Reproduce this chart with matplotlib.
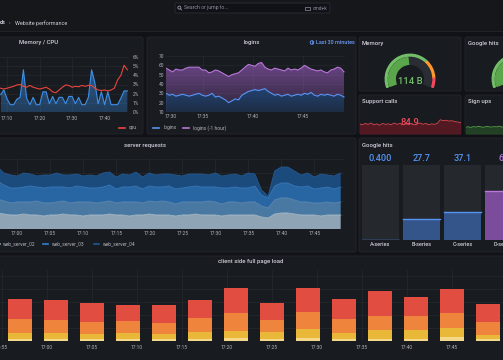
import numpy as np
import matplotlib
matplotlib.use('Agg')
import matplotlib.pyplot as plt
import matplotlib.colors as mcolors
from matplotlib.patches import FancyBboxPatch, Wedge, Polygon, Circle, Rectangle

plt.rcParams['font.family'] = ['Roboto', 'DejaVu Sans']

W, H = 503, 360

CANVAS = '#111217'
PANEL = '#181b1f'
BORDER = '#24262c'
TEXT = '#d0d0dc'
TICK = '#b4b4c0'
GRID = '#26282d'

# ---- data ----
# memory / cpu, one value per minute from 17:08
cpu_start = 8
memory_pct = [1.9, 2.4, 1.4, 0.8, 0.8, 1.4, 1.6, 4.6, 1.5, 0.8,
              1.6, 0.8, 0.8, 2.2, 2.2, 0.9, 1.7, 0.9, 1.6, 1.6,
              0.9, 1.7, 1.7, 0.9, 1.6, 0.8, 0.8, 1.6, 4.6, 3.2,
              0.9, 2.2, 0.8, 2.2, 0.8, 0.8, 0.8, 1.5, 2.3, 2.3]
cpu_pct = [2.6, 2.5, 2.6, 2.7, 2.8, 2.95, 3.0, 2.8, 2.7, 2.9,
           2.7, 2.6, 2.5, 2.6, 2.7, 2.5, 2.2, 2.1, 2.4, 2.7,
           2.95, 2.9, 2.7, 2.8, 2.75, 2.9, 2.8, 2.9, 2.9, 2.6,
           2.4, 2.35, 2.4, 2.3, 2.4, 2.6, 3.5, 4.0, 5.1, 4.6]

# logins, samples between 17:31:18 and 17:49:06
login_span = (31.3, 49.1)
logins = [30, 28, 29, 27, 28, 29, 28, 27, 28, 29, 30,
          28, 27, 28, 30, 26, 27, 25, 23, 20, 22, 24,
          23, 28, 30, 32, 33, 34, 33, 34, 35, 32, 30,
          28, 29, 27, 28, 29, 27, 28, 29, 28, 30, 29,
          31, 28, 27, 29, 28, 29, 28, 27, 29, 28, 26]
logins_hour_ago = [57, 55, 53, 56, 55, 55, 57, 58, 58, 58, 58,
                   55, 55, 52, 53, 55, 54, 52, 50, 48, 50, 51,
                   52, 55, 58, 61, 60, 59, 62, 63, 58, 56, 55,
                   57, 56, 55, 54, 57, 55, 56, 55, 57, 60, 58,
                   56, 55, 54, 55, 53, 52, 55, 56, 58, 57, 53]

# server requests (x10 req/s), one value per minute from 16:57
req_start = -3
web_server_01 = [16, 15, 14, 14, 15, 14, 14, 13, 14, 14,
                 15, 14, 14, 13, 14, 14, 14, 15, 14, 14,
                 13, 14, 14, 15, 14, 14, 14, 13, 14, 14,
                 15, 14, 14, 14, 13, 14, 14, 14, 14, 14,
                 12, 11, 15, 16, 16, 15, 14, 14, 14, 13,
                 14, 14, 14]
web_server_02 = [14, 13, 12, 13, 12, 13, 14, 13, 12, 13,
                 13, 12, 13, 14, 13, 12, 13, 13, 12, 13,
                 14, 13, 12, 13, 13, 14, 13, 12, 13, 13,
                 12, 13, 14, 13, 12, 13, 13, 12, 13, 13,
                 11, 10, 14, 15, 15, 14, 13, 13, 12, 13,
                 13, 12, 13]
web_server_03 = [18, 16, 15, 14, 15, 16, 14, 15, 16, 15,
                 14, 15, 16, 15, 14, 15, 15, 16, 14, 15,
                 15, 16, 14, 15, 15, 14, 16, 15, 14, 15,
                 16, 15, 14, 15, 16, 14, 15, 15, 14, 16,
                 11, 10, 14, 15, 15, 14, 15, 16, 14, 15,
                 15, 14, 15]
web_server_04 = [14, 12, 13, 12, 14, 12, 11, 13, 12, 14,
                 12, 13, 12, 11, 13, 12, 14, 13, 12, 13,
                 12, 14, 12, 13, 12, 13, 12, 14, 12, 13,
                 12, 13, 12, 14, 12, 13, 13, 12, 15, 12,
                 5, 2, 15, 16, 16, 15, 12, 13, 12, 14,
                 12, 13, 14]

# google hits bar gauge
hit_series = ['A-series', 'B-series', 'C-series', 'D-series']
hit_values = [0.4, 27.7, 37.1, 66]
hit_colors = ['#5794f2', '#5794f2', '#5794f2', '#b877d9']

# stat panels
memory_bytes = 114
memory_max = 240
google_gauge = 55
support_calls = [82, 80, 83, 81, 84, 80, 82, 79, 83, 81, 82, 80,
                 84, 81, 83, 80, 82, 81, 83, 80, 82, 84, 81, 83,
                 80, 82, 81, 83, 91, 89, 90, 88, 89, 87, 86, 84.9]
sign_ups = [41, 44, 40, 45, 42, 47, 43, 41, 46, 44,
            42, 45, 43, 48, 42, 44, 41, 45, 43, 46]

# client side full page load (ms), one bar every 4 minutes from 16:57
load_start, load_step = -3, 4
load_layers = {
    'pale':   [100, 100, 100, 100, 100, 100, 150, 100, 150, 100, 100, 100, 200, 100],
    'yellow': [300, 300, 250, 300, 250, 350, 350, 350, 450, 300, 450, 450, 450, 200],
    'orange': [700, 650, 600, 600, 550, 700, 900, 600, 850, 700, 700, 700, 750, 650],
    'red':    [1000, 1000, 950, 800, 900, 900, 1250, 850, 1200, 1000, 1250, 950, 1200, 900],
}
load_colors = ['#f4d88a', '#eab839', '#ef843c', '#e24d42']


def hhmm(m):
    h, mm = divmod(17 * 60 + m, 60)
    return f'{h}:{mm:02d}'


fig = plt.figure(figsize=(W / 100, H / 100), dpi=100, facecolor=CANVAS)
bg = fig.add_axes([0, 0, 1, 1])
bg.set_xlim(0, W)
bg.set_ylim(H, 0)
bg.axis('off')


def px_axes(x0, y0, x1, y1):
    ax = fig.add_axes([x0 / W, 1 - y1 / H, (x1 - x0) / W, (y1 - y0) / H])
    ax.set_facecolor('none')
    for s in ax.spines.values():
        s.set_visible(False)
    return ax


def panel(x0, y0, x1, y1):
    bg.add_patch(FancyBboxPatch((x0, y0), x1 - x0, y1 - y0,
                                boxstyle='round,pad=0,rounding_size=2',
                                fc=PANEL, ec=BORDER, lw=0.6))


def style(ax, pad):
    ax.tick_params(length=0, labelsize=3.5, labelcolor=TICK, pad=pad)
    ax.grid(True, color=GRID, lw=0.5)
    ax.set_axisbelow(True)


def grad_fill(ax, x, y, base, color, a_top, a_bot, z=1):
    x = np.asarray(x, float)
    y = np.asarray(y, float)
    rgba = np.zeros((100, 1, 4))
    rgba[:, :, :3] = mcolors.to_rgb(color)
    rgba[:, 0, 3] = np.linspace(a_bot, a_top, 100)
    verts = np.vstack([[x[0], base], np.column_stack([x, y]), [x[-1], base]])
    clip = Polygon(verts, closed=True, fc='none', ec='none')
    ax.add_patch(clip)
    im = ax.imshow(rgba, aspect='auto', origin='lower', zorder=z,
                   extent=[x[0], x[-1], base, y.max()])
    im.set_clip_path(clip)


# ---- header ----
bg.add_patch(Rectangle((0, 0), W, 31, fc='#16171b', ec='none'))
bg.plot([0, W], [31, 31], color=BORDER, lw=0.6)
bg.add_patch(FancyBboxPatch((175, 3), 155, 10, boxstyle='round,pad=0,rounding_size=1.5',
                            fc='#111217', ec='#2c2e34', lw=0.6))
bg.add_patch(Circle((179.3, 7.6), 1.5, fill=False, ec='#9a9aa6', lw=0.6))
bg.plot([180.4, 181.6], [8.7, 9.9], color='#9a9aa6', lw=0.6)
bg.text(184, 8, 'Search or jump to...', fontsize=3.7, color='#8e8e9a', va='center')
bg.add_patch(Rectangle((305.5, 6.6), 5, 3, fill=False, ec='#8e8e9a', lw=0.5))
bg.text(312.5, 8, 'cmd+k', fontsize=3.5, color='#8e8e9a', va='center')
bg.text(0, 23, 'ds', fontsize=4.0, color=TEXT, va='center', weight='bold')
bg.text(9, 23, '›', fontsize=4.0, color='#8e8e9a', va='center')
bg.text(15, 23, 'Website performance', fontsize=4.0, color=TEXT, va='center')

# ---- panels ----
for box in [(-5, 37, 143, 134), (147, 37, 356, 134), (359, 37, 461, 91), (465, 37, 515, 91),
            (359, 95, 461, 134), (465, 95, 515, 134), (-5, 138, 356, 252),
            (359, 138, 515, 252), (-5, 256, 515, 365)]:
    panel(*box)

tkw = dict(fontsize=4.3, color=TEXT, va='center', weight='medium')
bg.text(39, 42.5, 'Memory / CPU', ha='center', **tkw)
bg.text(252, 42.5, 'logins', ha='center', **tkw)
bg.text(362, 43, 'Memory', **tkw)
bg.text(468, 43, 'Google hits', **tkw)
bg.text(362, 102, 'Support calls', **tkw)
bg.text(468, 102, 'Sign ups', **tkw)
bg.text(145, 145, 'server requests', ha='center', **tkw)
bg.text(362, 145, 'Google hits', **tkw)
bg.text(251, 262, 'client side full page load', ha='center', **tkw)

bg.add_patch(Circle((312, 42.5), 1.8, fill=False, ec='#6e9fff', lw=0.6))
bg.plot([312, 312, 313], [41.4, 42.6, 42.6], color='#6e9fff', lw=0.5)
bg.text(316, 42.5, 'Last 30 minutes', fontsize=3.9, color='#6e9fff', va='center', weight='medium')

# ---- memory / cpu ----
ax = px_axes(0, 57, 128, 112)
t = cpu_start + np.arange(len(cpu_pct))
grad_fill(ax, t, memory_pct, 0, '#3b8ee8', 0.55, 0.3)
ax.plot(t, memory_pct, color='#3d8fe6', lw=0.8, zorder=3)
ax.plot(t, cpu_pct, color='#e8453c', lw=0.8, zorder=3)
ax.set_xlim(7.8, 47.2)
ax.set_ylim(0, 6)
ax.yaxis.tick_right()
ax.set_yticks(range(7), [f'{v}%' for v in range(7)])
ax.set_xticks([10, 20, 30, 40], [hhmm(m) for m in [10, 20, 30, 40]])
style(ax, 2.6)
ax.tick_params(axis='y', pad=3.5)
bg.plot([119, 125], [128, 128], color='#e8453c', lw=1.2)
bg.text(128.5, 128, 'cpu', fontsize=3.5, color=TICK, va='center')

# ---- logins ----
ax = px_axes(166, 56, 345, 112)
t = np.linspace(login_span[0], login_span[1], len(logins))
grad_fill(ax, t, logins_hour_ago, 10, '#a463cc', 0.6, 0.15)
ax.plot(t, logins_hour_ago, color='#b877d9', lw=0.8, zorder=3)
ax.fill_between(t, logins, 10, color=PANEL, lw=0, zorder=2)
grad_fill(ax, t, logins, 10, '#3274d9', 0.45, 0.2, z=2)
ax.plot(t, logins, color='#5794f2', lw=0.8, zorder=3)
ax.set_xlim(31.3, 49.2)
ax.set_ylim(10, 70)
ax.set_yticks(range(10, 71, 10))
ax.set_xticks([35, 40, 45], [hhmm(m) for m in [35, 40, 45]])
style(ax, 1.5)
ax.text(-0.005, -0.075, hhmm(30), transform=ax.transAxes, fontsize=3.5,
        color=TICK, va='center', ha='left')
bg.plot([153, 159], [128, 128], color='#5794f2', lw=1.2)
bg.text(164, 128, 'logins', fontsize=3.5, color=TICK, va='center')
bg.plot([183, 189], [128, 128], color='#b877d9', lw=1.2)
bg.text(193, 128, 'logins (-1 hour)', fontsize=3.5, color=TICK, va='center')

# ---- memory gauge ----
def gauge(ax, value, vmax, color):
    a0, a1 = 200, -20
    ang = a0 - (a0 - a1) * value / vmax
    ax.add_patch(Wedge((0, 0), 0.86, a1, ang, width=0.27, color='#2a2d33'))
    ax.add_patch(Wedge((0, 0), 0.86, ang, a0, width=0.27, color=color))
    for f0, f1, c in [(0, 0.7, '#73bf69'), (0.7, 0.9, '#ff9830'), (0.9, 1, '#f2495c')]:
        ax.add_patch(Wedge((0, 0), 0.99, a0 - (a0 - a1) * f1, a0 - (a0 - a1) * f0,
                           width=0.07, color=c))
    ax.set_xlim(-1.2, 1.2)
    ax.set_ylim(-1.2, 1.2)
    ax.axis('off')


ax = px_axes(380, 49, 440, 109)
gauge(ax, memory_bytes, memory_max, '#5aa64b')
ax.text(0, -0.1, f'{memory_bytes} B', ha='center', va='center', fontsize=6.8,
        color='#73bf69', weight='medium')
ax = px_axes(487, 49, 547, 109)
gauge(ax, google_gauge, 100, '#5aa64b')

# ---- sparklines ----
ax = px_axes(359.5, 111, 460.5, 134)
t = np.arange(len(support_calls))
ax.fill_between(t, support_calls, 60, color='#c4162a', alpha=0.35, lw=0)
ax.plot(t, support_calls, color='#e0474f', lw=0.6)
ax.set_xlim(t[0], t[-1])
ax.set_ylim(60, 110)
ax.axis('off')
ax.text(0.5, 0.5, f'{support_calls[-1]:.1f}', transform=ax.transAxes, ha='center',
        va='center', fontsize=6.8, color='#f2495c', weight='medium')

ax = px_axes(465.5, 111, 515, 134)
t = np.arange(len(sign_ups))
ax.fill_between(t, sign_ups, 0, color='#37872d', alpha=0.35, lw=0)
ax.plot(t, sign_ups, color='#56a64b', lw=0.6)
ax.set_xlim(t[0], t[-1])
ax.set_ylim(0, 140)
ax.axis('off')

# ---- server requests ----
ax = px_axes(0, 158, 344, 229)
t = req_start + np.arange(len(web_server_01))
layers = [web_server_01, web_server_02, web_server_03, web_server_04]
fills = ['#8fa5b6', '#4978a3', '#2866a3', '#1b4a7c']
edges = ['#a9bccb', '#5f8cb5', '#3a7bbd', '#25598f']
ax.stackplot(t, layers, colors=fills, lw=0, zorder=2)
for top, c in zip(np.cumsum(layers, axis=0), edges):
    ax.plot(t, top, color=c, lw=0.6, zorder=3)
ax.set_xlim(-2.6, 49.5)
ax.set_ylim(0, 71)
ticks = list(range(0, 50, 5))
ax.set_xticks(ticks, [hhmm(m) for m in ticks])
ax.set_yticks(range(0, 71, 14))
ax.set_yticklabels([])
style(ax, 1.6)
for x, c, lab in [(-6, '#8fa5b6', 'web_server_02'), (43, '#2f7fcf', 'web_server_03'),
                  (94, '#1f5794', 'web_server_04')]:
    bg.plot([x, x + 5.5], [244, 244], color=c, lw=1.2)
    bg.text(x + 9, 244, lab, fontsize=3.5, color=TICK, va='center')

# ---- google hits bar gauge ----
ax = px_axes(360, 165, 524, 240)
xs = np.arange(len(hit_values))
ax.bar(xs, [100] * len(xs), width=0.9, color='#25282d', zorder=1)
fill_cols = ['#34558a' if c == '#5794f2' else '#7b4c9c' for c in hit_colors]
ax.bar(xs, hit_values, width=0.9, color=fill_cols, zorder=2)
for x, v, c in zip(xs, hit_values, hit_colors):
    ax.plot([x - 0.45, x + 0.45], [v, v], color=c, lw=1.0, zorder=3)
    label = f'{v:.3f}' if v < 1 else f'{v:.3g}'
    ax.text(x, 108, label, ha='center', va='center', fontsize=6.6, color=c,
            weight='medium', clip_on=False)
    ax.text(x, -6.5, hit_series[x], ha='center', va='center', fontsize=4.0,
            color=TEXT, weight='medium', clip_on=False)
ax.set_xlim(-0.5, 3.5)
ax.set_ylim(0, 100)
ax.axis('off')

# ---- client side full page load ----
ax = px_axes(0, 270, 503, 341)
t = load_start + load_step * np.arange(len(load_layers['red']))
bottom = np.zeros(len(t))
for (name, vals), c in zip(load_layers.items(), load_colors):
    ax.bar(t, vals, bottom=bottom, width=2.65, color=c, lw=0, zorder=2)
    bottom += np.array(vals)
ax.set_xlim(-5.22, 50.67)
ax.set_ylim(0, 3550)
ticks = list(range(-5, 50, 5))
ax.set_xticks(ticks, [hhmm(m) for m in ticks])
ax.set_yticks(range(0, 3551, 650))
ax.set_yticklabels([])
style(ax, 3.0)

fig.savefig('out.png', dpi=100, facecolor=CANVAS)
